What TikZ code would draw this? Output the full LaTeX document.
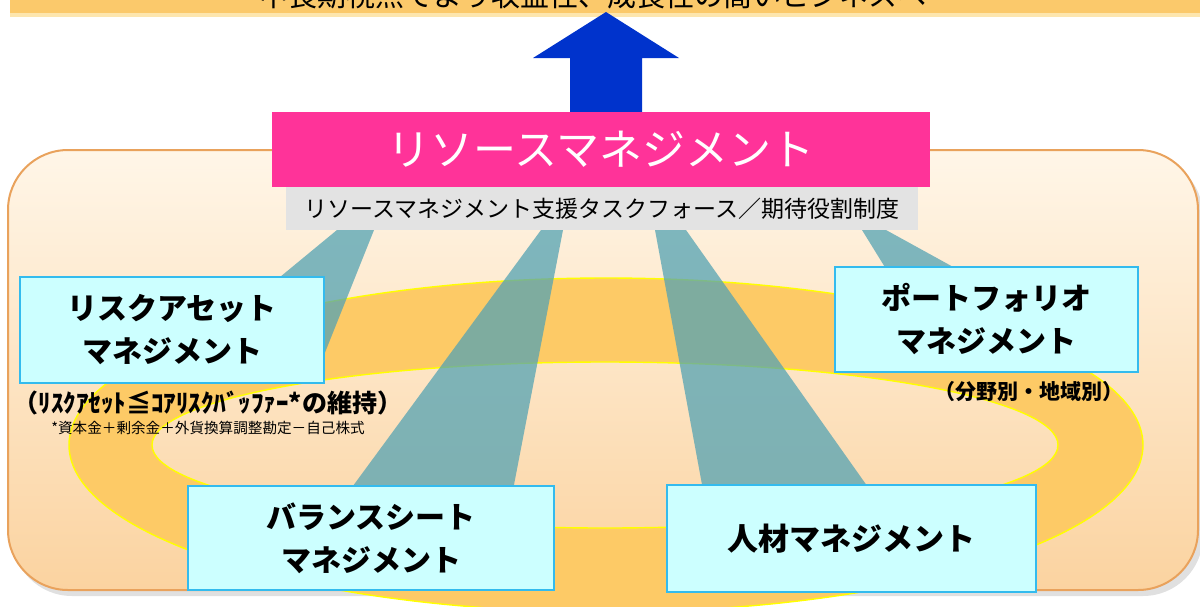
\documentclass[tikz,border=0pt]{standalone}
\usepackage{fontspec}
\newfontfamily\jp{Noto Sans CJK JP}
\definecolor{bannerc}{HTML}{FBC96B}
\definecolor{bannerlt}{HTML}{FDE6AE}
\definecolor{arrowc}{HTML}{0033CC}
\definecolor{bgtop}{HTML}{FFF6E8}
\definecolor{bgbot}{HTML}{FBD3A0}
\definecolor{bgline}{HTML}{E9A25C}
\definecolor{ringc}{HTML}{FDCA66}
\definecolor{ringline}{HTML}{FFFF00}
\definecolor{beamc}{RGB}{84,163,179}
\definecolor{pinkc}{HTML}{FF3399}
\definecolor{grayc}{HTML}{E3E3E3}
\definecolor{boxfill}{HTML}{CCFFFF}
\definecolor{boxline}{HTML}{33BBEE}
\begin{document}
\begin{tikzpicture}[x=0.5pt,y=-0.5pt,
  mbox/.style={draw=boxline, line width=1.1pt, fill=boxfill, inner sep=0pt,
    align=center, font=\jp\bfseries\fontsize{15}{21.5}\selectfont},
  beam/.style={fill=beamc, fill opacity=0.75},
  lbl/.style={inner sep=0pt, font=\jp\bfseries\fontsize{12.5}{15}\selectfont}]
\useasboundingbox (0,0) rectangle (1200,606);
\clip (0,0) rectangle (1200,606);
% top banner
\fill[bannerc] (10,-20) rectangle (1210,17);
\fill[bannerlt] (10,13) rectangle (1210,17);
\node[inner sep=0pt, anchor=base, font=\jp\fontsize{14.5}{16}\selectfont] (goal) at (593,6) {中長期視点でより収益性、成長性の高いビジネスへ};
% blue block arrow
\fill[arrowc] (606,12) -- (679,58) -- (642,58) -- (642,113) -- (570,113) -- (570,58) -- (533,58) -- cycle;
% background panel
\fill[black, opacity=0.12, rounded corners=30pt] (12,156) rectangle (1203,596);
\shade[top color=bgtop, bottom color=bgbot, rounded corners=30pt] (8,150) rectangle (1198,590);
\draw[bgline, line width=1pt, rounded corners=30pt] (8,150) rectangle (1198,590);
% ring
\fill[ringc, even odd rule] (606,445) ellipse [x radius=537, y radius=167] (605,445) ellipse [x radius=453, y radius=83];
\draw[ringline, line width=0.7pt] (606,445) ellipse [x radius=537, y radius=167];
\draw[ringline, line width=0.7pt] (605,445) ellipse [x radius=453, y radius=83];
% beams
\fill[beam] (337,230) -- (374,230) -- (322,360) -- (240,310) -- cycle;
\fill[beam] (541,230) -- (563,230) -- (513,490) -- (350,490) -- cycle;
\fill[beam] (655,230) -- (686,230) -- (870,490) -- (703,490) -- cycle;
\fill[beam] (862,230) -- (886,230) -- (995,290) -- (899,290) -- cycle;
% resource management
\node[fill=pinkc, minimum width=329pt, minimum height=37.5pt, inner sep=0pt,
  text=white, font=\jp\fontsize{21.5}{24}\selectfont] (rm) at (601,149.5) {リソースマネジメント};
\node[fill=grayc, minimum width=316pt, minimum height=21.5pt, inner sep=0pt,
  font=\jp\fontsize{11.5}{13}\selectfont] (tf) at (602,208.5) {リソースマネジメント支援タスクフォース／期待役割制度};
% boxes
\node[mbox, minimum width=152pt, minimum height=53pt] (risk) at (172,330) {リスクアセット\\マネジメント};
\node[mbox, minimum width=151.5pt, minimum height=52.5pt] (port) at (986.5,319.5) {ポートフォリオ\\マネジメント};
\node[mbox, minimum width=183pt, minimum height=52pt] (bs) at (371,538) {バランスシート\\マネジメント};
\node[mbox, minimum width=184.5pt, minimum height=53.5pt, font=\jp\bfseries\fontsize{15.5}{20}\selectfont] (hr) at (851.5,538.5) {人材マネジメント};
% labels
\node[lbl] (riskl) at (208,403) {（ﾘｽｸｱｾｯﾄ≦ｺｱﾘｽｸﾊﾞｯﾌｧｰ*の維持）};
\node[inner sep=0pt, font=\jp\fontsize{7.3}{9}\selectfont] (note) at (208,428) {*資本金＋剰余金＋外貨換算調整勘定－自己株式};
\node[lbl, font=\jp\bfseries\fontsize{10.5}{12}\selectfont] (portl) at (1029,392) {（分野別・地域別）};
\end{tikzpicture}
\end{document}
